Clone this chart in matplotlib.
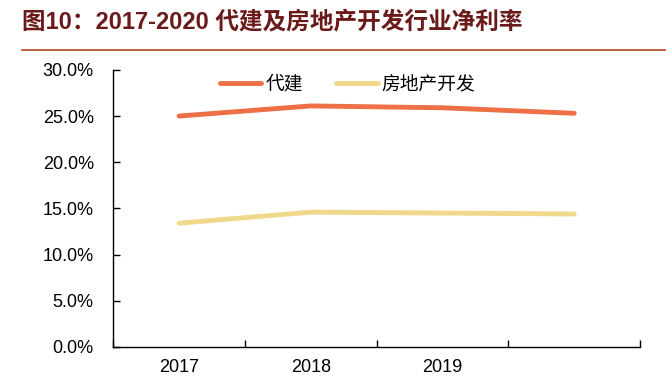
import matplotlib
matplotlib.use("Agg")
import matplotlib.pyplot as plt
from matplotlib.lines import Line2D

plt.rcParams['font.family'] = ['Liberation Sans', 'Noto Sans CJK SC', 'DejaVu Sans']

years = ['2017', '2018', '2019', '2020']
daijian = [25.0, 26.1, 25.9, 25.3]
fangdichan = [13.4, 14.6, 14.5, 14.4]
yticks = [0, 5, 10, 15, 20, 25, 30]

orange = '#EE7046'
yellow = '#F0D98A'

fig = plt.figure(figsize=(6.66, 3.87), dpi=100)
ax = fig.add_axes([0.170, 0.1034, 0.791, 0.716])

x = range(len(years))
ax.plot(x, daijian, color=orange, lw=3.5, solid_capstyle='round', label='代建')
ax.plot(x, fangdichan, color=yellow, lw=3.5, solid_capstyle='round', label='房地产开发')

ax.set_xlim(-0.5, len(years) - 0.5)
ax.set_ylim(0, 30)
ax.set_yticks(yticks)
ax.set_yticklabels([f'{v:.1f}%' for v in yticks], fontsize=13)
ax.set_xticks([i - 0.5 for i in range(len(years) + 1)])
ax.set_xticklabels([])
ax.set_xticks(list(x), minor=True)
ax.set_xticklabels(years[:3] + [''], minor=True, fontsize=13)
ax.tick_params(axis='x', which='minor', length=0, pad=9)
ax.tick_params(axis='both', which='major', direction='in', length=5, width=1)
ax.tick_params(axis='y', pad=14)
for s in ['top', 'right']:
    ax.spines[s].set_visible(False)
for s in ['left', 'bottom']:
    ax.spines[s].set_linewidth(1)

ax.legend(loc='upper center', bbox_to_anchor=(0.445, 1.04), ncol=2, frameon=False,
          fontsize=13.5, handlelength=2.2, handletextpad=0.2, columnspacing=1.8)

fig.text(0.033, 0.94, '图10：2017-2020 代建及房地产开发行业净利率', fontsize=17,
         fontweight='bold', color='#6B1A1A', va='center',
         family=['Liberation Sans', 'Noto Sans CJK SC'])
fig.add_artist(Line2D([0.033, 1.0], [0.871, 0.871], color='#B5441F', lw=1.2))

fig.savefig('out.png', dpi=100)
